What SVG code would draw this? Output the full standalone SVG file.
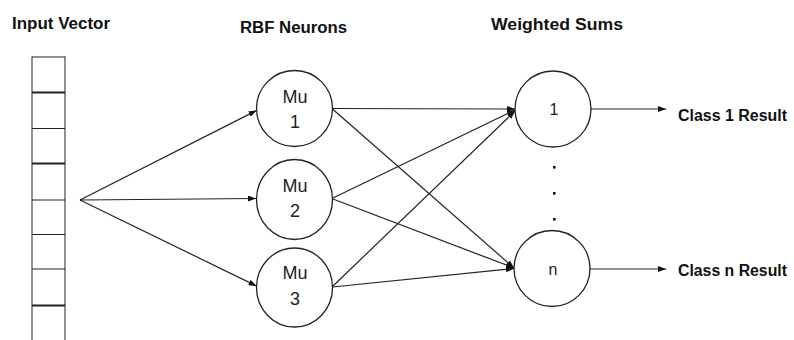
<svg xmlns="http://www.w3.org/2000/svg" width="794" height="340" viewBox="0 0 794 340">
<style>
.hdr{font-family:"Liberation Sans",Arial,sans-serif;font-weight:bold;font-size:16px;fill:#111}
.lbl{font-family:"Liberation Sans",Arial,sans-serif;font-size:18px;fill:#222;text-anchor:middle}
.sm{font-family:"Liberation Sans",Arial,sans-serif;font-size:16px;fill:#222;text-anchor:middle}
.node{fill:#fff;stroke:#222;stroke-width:1.3}
.edge{stroke:#222;stroke-width:1.2;fill:none;marker-end:url(#ah)}
</style>
<defs>
<marker id="ah" viewBox="0 0 8 6" refX="8" refY="3" markerWidth="8" markerHeight="6" markerUnits="userSpaceOnUse" orient="auto">
<path d="M0,0 L8,3 L0,6 Z" fill="#111"/>
</marker>
</defs>
<rect width="794" height="340" fill="#fff"/>
<g id="titles">
<text class="hdr" x="12" y="29" textLength="98" lengthAdjust="spacingAndGlyphs">Input Vector</text>
<text class="hdr" x="240" y="33" textLength="107" lengthAdjust="spacingAndGlyphs">RBF Neurons</text>
<text class="hdr" x="491" y="30" textLength="132" lengthAdjust="spacingAndGlyphs">Weighted Sums</text>
</g>
<g id="input-vector">
<line x1="32" y1="56.5" x2="32" y2="340" stroke="#555" stroke-width="1.3"/>
<line x1="65" y1="56.5" x2="65" y2="340" stroke="#555" stroke-width="1.3"/>
<g stroke="#222" stroke-width="1.2">
<line x1="32" y1="57" x2="65" y2="57"/>
<line x1="32" y1="92.5" x2="65" y2="92.5" stroke-width="1.8"/>
<line x1="32" y1="128.5" x2="65" y2="128.5"/>
<line x1="32" y1="163.5" x2="65" y2="163.5" stroke-width="1.8"/>
<line x1="32" y1="200" x2="65" y2="200"/>
<line x1="32" y1="234.5" x2="65" y2="234.5"/>
<line x1="32" y1="269" x2="65" y2="269"/>
<line x1="32" y1="305.5" x2="65" y2="305.5" stroke-width="1.8"/>
</g>
</g>
<g id="connectors">
<line class="edge" x1="80" y1="200" x2="256.5" y2="110.5"/>
<line class="edge" x1="80" y1="200" x2="256" y2="198.5"/>
<line class="edge" x1="80" y1="200" x2="256.5" y2="286"/>
<line class="edge" x1="332.5" y1="108.5" x2="515" y2="109"/>
<line class="edge" x1="332.5" y1="109" x2="514" y2="268"/>
<line class="edge" x1="333" y1="198" x2="515" y2="110"/>
<line class="edge" x1="333" y1="199" x2="514" y2="268"/>
<line class="edge" x1="332.5" y1="286.5" x2="515" y2="111"/>
<line class="edge" x1="332.5" y1="287" x2="514" y2="268.5"/>
<line class="edge" x1="591" y1="109" x2="666" y2="109"/>
<line class="edge" x1="590" y1="269" x2="666" y2="269"/>
</g>
<g id="mu1"><ellipse class="node" cx="294.5" cy="108.5" rx="38" ry="38"/><text class="lbl" x="295" y="103">Mu</text><text class="lbl" x="295" y="128">1</text></g>
<g id="mu2"><ellipse class="node" cx="294.5" cy="199.5" rx="38" ry="40"/><text class="lbl" x="295" y="192">Mu</text><text class="lbl" x="295" y="217">2</text></g>
<g id="mu3"><ellipse class="node" cx="294.5" cy="287.5" rx="38" ry="39.5"/><text class="lbl" x="295" y="279">Mu</text><text class="lbl" x="295" y="305">3</text></g>
<g id="sum1"><circle class="node" cx="553" cy="109" r="38"/><text class="sm" x="554" y="115">1</text></g>
<g id="sumn"><circle class="node" cx="552" cy="268.5" r="38"/><text class="sm" x="553" y="275">n</text></g>
<g id="dots" fill="#111">
<rect x="553" y="166" width="2.6" height="2.6"/>
<rect x="553" y="192" width="2.6" height="2.6"/>
<rect x="553" y="218" width="2.6" height="2.6"/>
</g>
<g id="results">
<text class="hdr" x="678" y="121" textLength="109" lengthAdjust="spacingAndGlyphs">Class 1 Result</text>
<text class="hdr" x="678" y="276" textLength="109" lengthAdjust="spacingAndGlyphs">Class n Result</text>
</g>
</svg>
